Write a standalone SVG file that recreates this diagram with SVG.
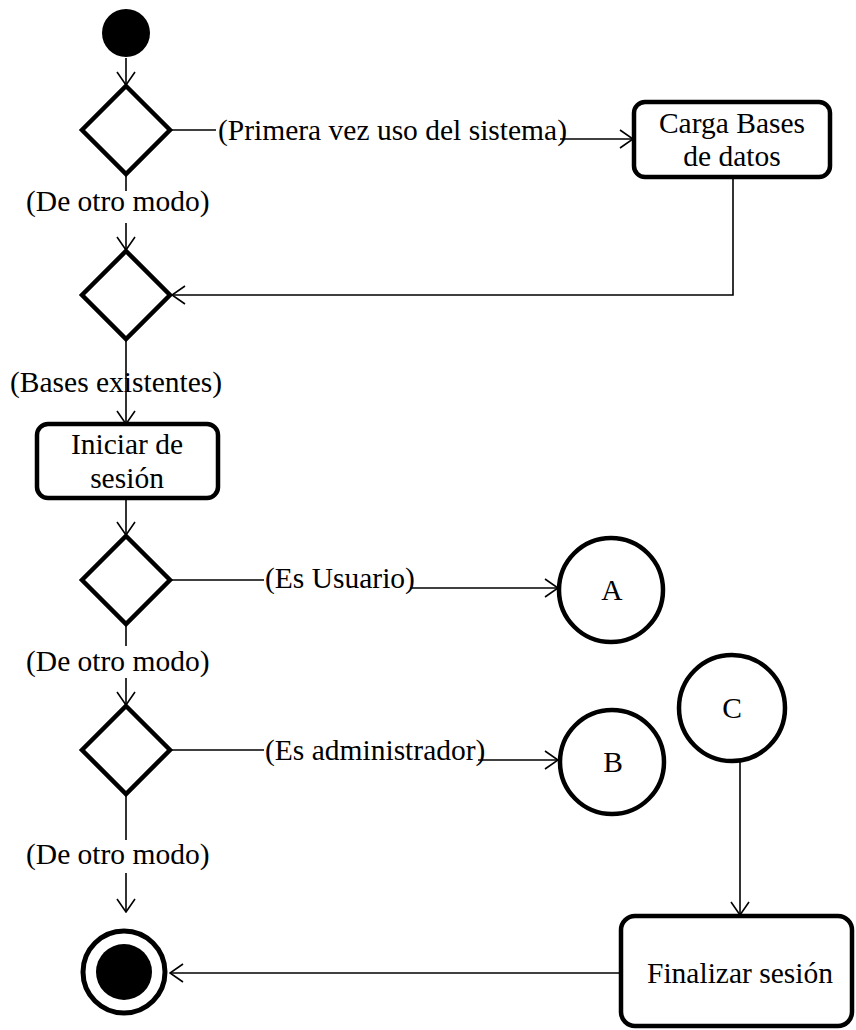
<svg xmlns="http://www.w3.org/2000/svg" width="856" height="1030" viewBox="0 0 856 1030">
  <style>
    .lbl { font-family: "Liberation Serif", "Times New Roman", serif; font-size: 29.5px; fill: #000; }
    .mid { text-anchor: middle; }
    .edge { fill: none; stroke: #000; stroke-width: 1.6; }
    .node { fill: #fff; stroke: #000; stroke-width: 4.5; }
  </style>
  <defs>
    <marker id="arrow" viewBox="0 0 15 20" refX="14" refY="10" markerWidth="15" markerHeight="20" markerUnits="userSpaceOnUse" orient="auto">
      <path d="M1,1 L14,10 L1,19" fill="none" stroke="#000" stroke-width="1.6"/>
    </marker>
  </defs>
  <rect width="856" height="1030" fill="#fff"/>

  <g id="connectors">
    <!-- start to first decision -->
    <path class="edge" d="M126,58 L126,85" marker-end="url(#arrow)"/>
    <!-- first decision: first use -->
    <path class="edge" d="M171,130 L216,130"/>
    <path class="edge" d="M560,139 L633,139" marker-end="url(#arrow)"/>
    <!-- first decision: otherwise -->
    <path class="edge" d="M126,175 L126,191"/>
    <path class="edge" d="M126,223 L126,250" marker-end="url(#arrow)"/>
    <!-- load databases back to merge -->
    <path class="edge" d="M733,177 L733,295 L172,295" marker-end="url(#arrow)"/>
    <!-- existing databases to login -->
    <path class="edge" d="M126,340 L126,424" marker-end="url(#arrow)"/>
    <!-- login to user decision -->
    <path class="edge" d="M126,498 L126,535" marker-end="url(#arrow)"/>
    <!-- user branch -->
    <path class="edge" d="M171,580 L264,580"/>
    <path class="edge" d="M410,588 L558,588" marker-end="url(#arrow)"/>
    <!-- user decision: otherwise -->
    <path class="edge" d="M126,625 L126,646"/>
    <path class="edge" d="M126,678 L126,705" marker-end="url(#arrow)"/>
    <!-- admin branch -->
    <path class="edge" d="M171,750 L264,750"/>
    <path class="edge" d="M478,760 L558,760" marker-end="url(#arrow)"/>
    <!-- admin decision: otherwise -->
    <path class="edge" d="M126,795 L126,840"/>
    <path class="edge" d="M126,873 L126,912" marker-end="url(#arrow)"/>
    <!-- C to logout -->
    <path class="edge" d="M740,762 L740,915" marker-end="url(#arrow)"/>
    <!-- logout to end -->
    <path class="edge" d="M620,973 L170,973" marker-end="url(#arrow)"/>
  </g>

  <g id="start">
    <circle cx="126" cy="33" r="24" fill="#000"/>
  </g>

  <g id="decision1">
    <polygon class="node" points="126,86 170,130 126,174 82,130"/>
  </g>
  <text class="lbl" x="218" y="140">(Primera vez uso del sistema)</text>
  <text class="lbl" x="26" y="211">(De otro modo)</text>

  <g id="carga">
    <rect class="node" x="634" y="102" width="196" height="75" rx="11"/>
    <text class="lbl mid" x="732" y="133">Carga Bases</text>
    <text class="lbl mid" x="732" y="166">de datos</text>
  </g>

  <g id="decision2">
    <polygon class="node" points="126,251 170,295 126,339 82,295"/>
  </g>
  <text class="lbl" x="10" y="392">(Bases existentes)</text>

  <g id="iniciar">
    <rect class="node" x="37" y="424" width="181" height="74" rx="11"/>
    <text class="lbl mid" x="127" y="454">Iniciar de</text>
    <text class="lbl mid" x="127" y="488">sesión</text>
  </g>

  <g id="decision3">
    <polygon class="node" points="126,536 170,580 126,624 82,580"/>
  </g>
  <text class="lbl" x="265" y="588">(Es Usuario)</text>
  <text class="lbl" x="26" y="671">(De otro modo)</text>

  <g id="A">
    <circle class="node" cx="611" cy="590" r="52"/>
    <text class="lbl mid" x="612" y="600">A</text>
  </g>

  <g id="decision4">
    <polygon class="node" points="126,706 170,750 126,794 82,750"/>
  </g>
  <text class="lbl" x="265" y="760">(Es administrador)</text>
  <text class="lbl" x="26" y="864">(De otro modo)</text>

  <g id="B">
    <circle class="node" cx="612" cy="762" r="52"/>
    <text class="lbl mid" x="613" y="772">B</text>
  </g>

  <g id="C">
    <circle class="node" cx="732" cy="708" r="53"/>
    <text class="lbl mid" x="732" y="718">C</text>
  </g>

  <g id="finalizar">
    <rect class="node" x="621" y="916" width="231" height="110" rx="14"/>
    <text class="lbl mid" x="740" y="983">Finalizar sesión</text>
  </g>

  <g id="end">
    <circle cx="124" cy="972" r="41" fill="#fff" stroke="#000" stroke-width="5"/>
    <circle cx="124" cy="972" r="28" fill="#000"/>
  </g>
</svg>
